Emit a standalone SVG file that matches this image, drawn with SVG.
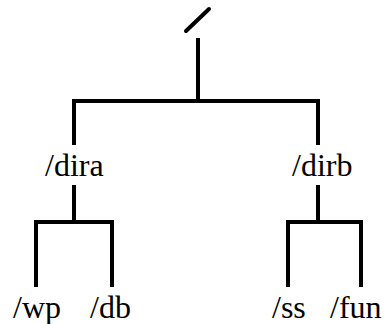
<svg xmlns="http://www.w3.org/2000/svg" width="385" height="324" viewBox="0 0 385 324">
<style>
.e{stroke:#000;stroke-width:4;fill:none;stroke-linecap:butt;stroke-linejoin:miter}
.t{font-family:"Liberation Serif","DejaVu Serif",serif;font-size:32px;fill:#000}
</style>
<rect width="385" height="324" fill="#fff"/>
<g id="connectors" class="e">
<path d="M198,38 V101"/>
<path d="M74,145 V101 H318 V145"/>
<path d="M74,185 V222"/>
<path d="M36,287 V222 H112 V287"/>
<path d="M318,185 V222"/>
<path d="M288,287 V222 H361 V287"/>
</g>
<g id="root"><line x1="186" y1="31" x2="209" y2="9" stroke="#000" stroke-width="4" stroke-linecap="round"/></g>
<g id="dira"><text class="t" x="45" y="176">/dira</text></g>
<g id="dirb"><text class="t" x="292" y="176">/dirb</text></g>
<g id="wp"><text class="t" x="13" y="318">/wp</text></g>
<g id="db"><text class="t" x="90" y="318">/db</text></g>
<g id="ss"><text class="t" x="272" y="318">/ss</text></g>
<g id="fun"><text class="t" x="330" y="318">/fun</text></g>
</svg>
